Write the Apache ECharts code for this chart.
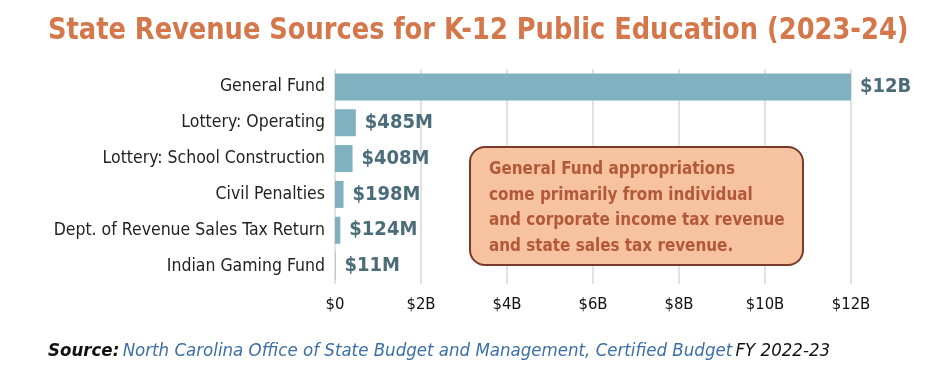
<!DOCTYPE html>
<html><head><meta charset="utf-8">
<script src="https://cdn.jsdelivr.net/npm/echarts@6/dist/echarts.min.js"></script>
<style>html,body{margin:0;padding:0;background:#fff}#c{width:938px;height:379px}</style>
</head><body><div id="c"></div>
<script>
const categories = ['General Fund','Lottery: Operating','Lottery: School Construction','Civil Penalties','Dept. of Revenue Sales Tax Return','Indian Gaming Fund'];
const valuesMillions = [12000, 485, 408, 198, 124, 11];
const valueLabels = ['$12B','$485M','$408M','$198M','$124M','$11M'];
const tickLabels = {0:'$0',2000:'$2B',4000:'$4B',6000:'$6B',8000:'$8B',10000:'$10B',12000:'$12B'};

const F = '"DejaVu Sans Condensed", "Liberation Sans", Arial, sans-serif';
const chart = echarts.init(document.getElementById('c'));
chart.setOption({
  backgroundColor:'#fff',
  animation:false,
  grid:{left:335, right:87, top:69, bottom:95, containLabel:false},
  xAxis:{
    type:'value', min:0, max:12000, interval:2000,
    axisLine:{show:false}, axisTick:{show:false},
    splitLine:{show:true, lineStyle:{color:'#d9d9d9', width:1.5}},
    axisLabel:{margin:12, fontFamily:F, fontSize:16.5, color:'#111', formatter:v=>tickLabels[v]}
  },
  yAxis:{
    type:'category', inverse:true, data:categories,
    axisLine:{show:false}, axisTick:{show:false},
    axisLabel:{margin:10, fontFamily:F, fontSize:17.5, color:'#222'}
  },
  series:[{
    type:'bar', data:valuesMillions, barWidth:27,
    itemStyle:{color:'#7fb1c1'},
    label:{show:true, position:'right', distance:9, fontFamily:F, fontSize:20, fontWeight:'bold', color:'#4b6d7a',
      formatter:p=>valueLabels[p.dataIndex]}
  }],
  graphic:[
    {type:'text', x:48, y:15, scaleX:0.922, z:100,
     style:{x:0, y:0, text:'State Revenue Sources for K-12 Public Education (2023-24)', fontFamily:F, fontSize:31, fontWeight:'bold', fill:'#d4784c', textVerticalAlign:'top'}},
    {type:'rect', z:100, shape:{x:470, y:147, width:333, height:118, r:15},
     style:{fill:'#f6c29f', stroke:'#7a3a2a', lineWidth:2}},
    {type:'text', z:101, left:489, top:157,
     style:{text:'General Fund appropriations\ncome primarily from individual\nand corporate income tax revenue\nand state sales tax revenue.',
       fontFamily:F, fontSize:16.9, fontWeight:'bold', fill:'#b3593a', lineHeight:25.5}},
    {type:'text', left:48, top:342,
     style:{rich:{
        a:{fontFamily:F, fontSize:18.5, fontWeight:'bold', fontStyle:'italic', fill:'#111'},
        b:{fontFamily:F, fontSize:18.5, fontStyle:'italic', fill:'#3b6fa6'},
        c:{fontFamily:F, fontSize:18.5, fontStyle:'italic', fill:'#111'}
       },
       text:'{a|Source:} {b|North Carolina Office of State Budget and Management, Certified Budget} {c|FY 2022-23}'}}
  ]
});
</script></body></html>
